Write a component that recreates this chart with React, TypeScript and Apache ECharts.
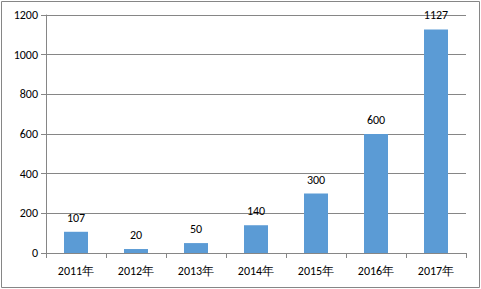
import React, { useEffect, useRef } from "react";
import * as echarts from "echarts";

const categories = ["2011年", "2012年", "2013年", "2014年", "2015年", "2016年", "2017年"];
const values = [107, 20, 50, 140, 300, 600, 1127];
const yMin = 0;
const yMax = 1200;
const yInterval = 200;

export default function App() {
  const ref = useRef<HTMLDivElement>(null);
  useEffect(() => {
    if (!ref.current) return;
    const chart = echarts.init(ref.current, null, { renderer: "svg" });
    const gray = "#868686";
    const font = "Calibri, Carlito, 'Liberation Sans', Arial, sans-serif";
    chart.setOption({
      animation: false,
      backgroundColor: "#ffffff",
      grid: { left: 46, right: 15, top: 15, bottom: 36, containLabel: false },
      graphic: [
        {
          type: "rect",
          shape: { x: 1.5, y: 1.5, width: 478, height: 286 },
          style: { fill: "none", stroke: gray, lineWidth: 1 },
          silent: true,
        },
      ],
      xAxis: {
        type: "category",
        data: categories,
        axisLine: { show: true, lineStyle: { color: gray, width: 1 } },
        axisTick: { show: true, length: 5, lineStyle: { color: gray }, alignWithLabel: false },
        axisLabel: { color: "#000", fontSize: 12, margin: 12, fontFamily: font },
        splitLine: { show: false },
      },
      yAxis: {
        type: "value",
        min: yMin,
        max: yMax,
        interval: yInterval,
        axisLine: { show: true, lineStyle: { color: gray, width: 1 } },
        axisTick: { show: true, length: 5, lineStyle: { color: gray } },
        axisLabel: {
          color: "#000",
          fontSize: 12,
          margin: 8,
          fontFamily: font,
          formatter: (v: number) => String(v),
        },
        splitLine: { show: true, lineStyle: { color: gray, width: 1 } },
      },
      series: [
        {
          type: "bar",
          data: values,
          barWidth: "40%",
          itemStyle: { color: "#5B9BD5" },
          label: {
            show: true,
            position: "top",
            distance: 8,
            color: "#000",
            fontSize: 12,
            fontFamily: font,
          },
        },
      ],
    });
    return () => chart.dispose();
  }, []);
  return (
    <div
      ref={ref}
      style={{ position: "fixed", left: 0, top: 0, width: 481, height: 289 }}
    />
  );
}
